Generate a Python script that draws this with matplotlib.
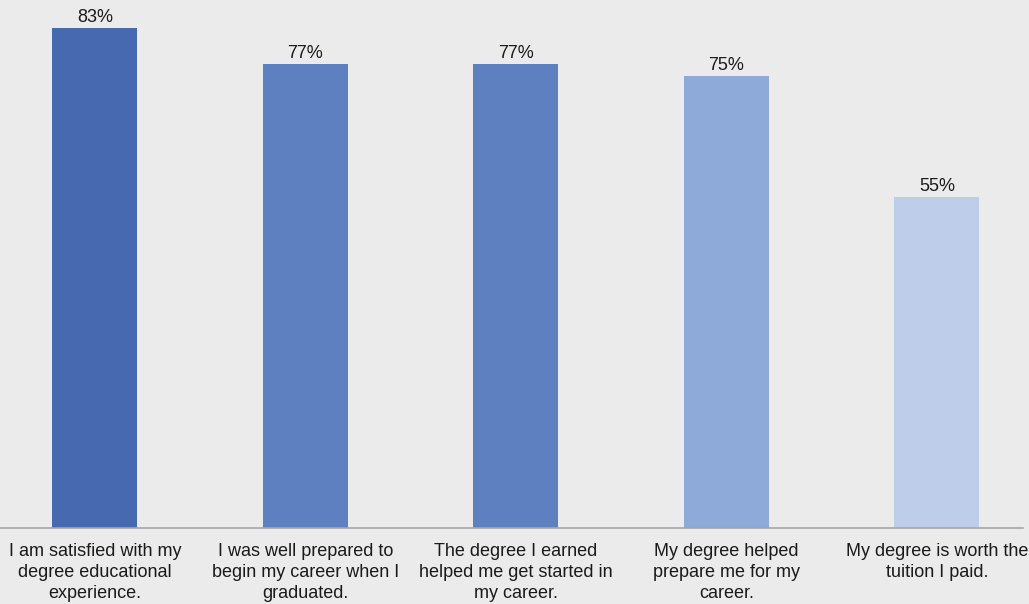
import matplotlib.pyplot as plt

plt.rcParams['font.family'] = ['Liberation Sans', 'DejaVu Sans']

categories = [
    'I am satisfied with my\ndegree educational\nexperience.',
    'I was well prepared to\nbegin my career when I\ngraduated.',
    'The degree I earned\nhelped me get started in\nmy career.',
    'My degree helped\nprepare me for my\ncareer.',
    'My degree is worth the\ntuition I paid.',
]
values = [83, 77, 77, 75, 55]
colors = ['#4769B0', '#5F80C0', '#5F80C0', '#8EAAD9', '#BDCDEA']

bg = '#EBEBEB'
fig = plt.figure(figsize=(10.29, 6.04), dpi=100, facecolor=bg)
# axes run from x=0 to 1023px, bottom at 528px from top
ax = fig.add_axes([0, 76 / 604, 1023 / 1029, 528 / 604], facecolor=bg)

x = range(len(values))
bars = ax.bar(x, values, width=0.404, color=colors, zorder=2)
for b, v in zip(bars, values):
    ax.text(b.get_x() + b.get_width() / 2, v + 0.35, f'{v}%', ha='center', va='bottom',
            fontsize=13, color='#1A1A1A')

ax.set_xlim(-0.451, 4.409)
ax.set_ylim(0, 87.65)
ax.set_xticks(list(x))
ax.set_xticklabels(categories, fontsize=13, color='#1A1A1A', linespacing=1.28)
ax.tick_params(axis='x', length=0, pad=11)
ax.set_yticks([])
for s in ['top', 'right', 'left']:
    ax.spines[s].set_visible(False)
ax.spines['bottom'].set_color('#A6A6A6')
ax.spines['bottom'].set_linewidth(1.2)

fig.savefig('out.png', dpi=100, facecolor=bg)
